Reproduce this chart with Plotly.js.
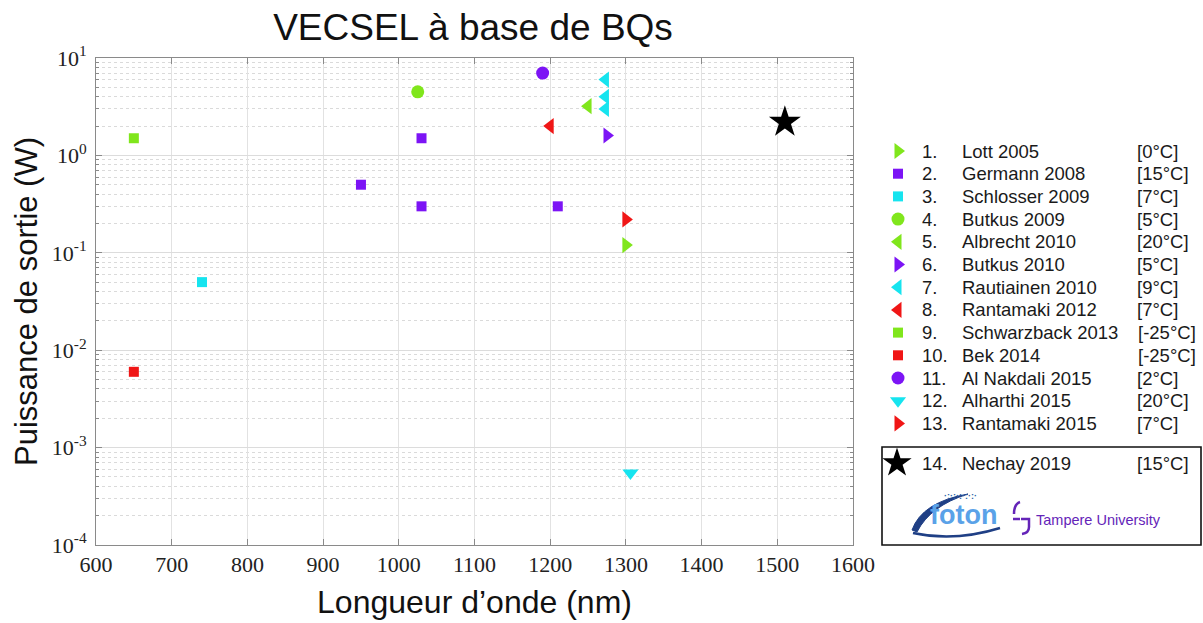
<!DOCTYPE html>
<html>
<head>
<meta charset="utf-8">
<script src="https://cdn.plot.ly/plotly-3.0.1.min.js"></script>
<style>html,body{margin:0;padding:0;background:#fff;}#chart{width:1203px;height:623px;}</style>
</head>
<body>
<div id="chart"></div>
<script>
// ---- data ----
const refNumbers = ['1.', '2.', '3.', '4.', '5.', '6.', '7.', '8.', '9.', '10.', '11.', '12.', '13.', '14.'];
const refNames = ['Lott 2005', 'Germann 2008', 'Schlosser 2009', 'Butkus 2009', 'Albrecht 2010', 'Butkus 2010',
  'Rautiainen 2010', 'Rantamaki 2012', 'Schwarzback 2013', 'Bek 2014', 'Al Nakdali 2015', 'Alharthi 2015',
  'Rantamaki 2015', 'Nechay 2019'];
const refTemps = ['[0°C]', '[15°C]', '[7°C]', '[5°C]', '[20°C]', '[5°C]', '[9°C]', '[7°C]', '[-25°C]', '[-25°C]',
  '[2°C]', '[20°C]', '[7°C]', '[15°C]'];
const wavelength = [
  [1300], [1030, 950, 1030, 1210], [740], [1025], [1250], [1275], [1273, 1273, 1273], [1200], [650], [650],
  [1190], [1306], [1300], [1510]
];
const power = [
  [0.12], [1.5, 0.5, 0.3, 0.3], [0.05], [4.5], [3.2], [1.6], [6.0, 4.0, 3.0], [2.0], [1.5], [0.006],
  [7.0], [0.00055], [0.22], [2.2]
];
const yTickVals = [1e-4, 1e-3, 1e-2, 1e-1, 1, 10];
const yTickText = ['10<sup>-4</sup>', '10<sup>-3</sup>', '10<sup>-2</sup>', '10<sup>-1</sup>', '10<sup>0</sup>', '10<sup>1</sup>'];

// ---- styles ----
const GREEN = '#80e61c', PURPLE = '#7c14f5', CYAN = '#16e4ef', RED = '#f01616', BLACK = '#000000';
const colors = [GREEN, PURPLE, CYAN, GREEN, GREEN, PURPLE, CYAN, RED, GREEN, RED, PURPLE, CYAN, RED, BLACK];
const symbols = ['triangle-right', 'square', 'square', 'circle', 'triangle-left', 'triangle-right', 'triangle-left',
  'triangle-left', 'square', 'square', 'circle', 'triangle-down', 'triangle-right', 'star'];
function mSize(sym) {
  if (sym === 'square') return 10;
  if (sym === 'circle') return 13;
  if (sym === 'star') return 24;
  return 14;
}

const W = 1203, H = 623;
const plotL = 96, plotR = 853, plotT = 58, plotB = 545;
const SANS = 'Liberation Sans';
const SERIF = 'Liberation Serif';

const traces = [];
refNames.forEach((nm, i) => {
  traces.push({
    type: 'scatter', mode: 'markers', name: refNumbers[i] + ' ' + nm,
    x: wavelength[i], y: power[i], xaxis: 'x', yaxis: 'y',
    marker: {symbol: symbols[i], color: colors[i], size: mSize(symbols[i]), opacity: 1, line: {width: 0}},
    showlegend: false, cliponaxis: false
  });
});

// legend markers (pixel-coordinate overlay axes)
const rowY = i => (i < 13 ? 151 + i * 22.7 : 463);
const legX = [], legY = [], legSym = [], legCol = [], legSize = [];
refNames.forEach((nm, i) => {
  legX.push(i === 13 ? 897 : 898);
  legY.push(rowY(i));
  legSym.push(symbols[i]);
  legCol.push(colors[i]);
  legSize.push(symbols[i] === 'star' ? 22 : (symbols[i] === 'square' ? 10 : (symbols[i] === 'circle' ? 13 : 14)));
});
traces.push({
  type: 'scatter', mode: 'markers', x: legX, y: legY, xaxis: 'x2', yaxis: 'y2',
  marker: {symbol: legSym, color: legCol, size: legSize, opacity: 1, line: {width: 0}},
  showlegend: false, hoverinfo: 'skip', cliponaxis: false
});

const annotations = [];
refNames.forEach((nm, i) => {
  const y = rowY(i);
  const f = {family: SANS, size: 18.5, color: '#1a1a1a'};
  annotations.push({xref: 'x2', yref: 'y2', x: 920, y: y, text: refNumbers[i], showarrow: false, xanchor: 'left', yanchor: 'middle', font: f});
  annotations.push({xref: 'x2', yref: 'y2', x: 960, y: y, text: nm, showarrow: false, xanchor: 'left', yanchor: 'middle', font: f});
  annotations.push({xref: 'x2', yref: 'y2', x: (refTemps[i].indexOf('-') >= 0 ? 1136 : 1135), y: y, text: refTemps[i], showarrow: false, xanchor: 'left', yanchor: 'middle', font: f});
});
// logos as text
annotations.push({xref: 'x2', yref: 'y2', x: 963, y: 515, text: '<b>foton</b>', showarrow: false,
  xanchor: 'center', yanchor: 'middle', font: {family: SANS, size: 27, color: '#5aa2e8'}});
annotations.push({xref: 'x2', yref: 'y2', x: 960, y: 496, text: '<b>·:·:·:·:·:·</b>', showarrow: false,
  xanchor: 'center', yanchor: 'middle', font: {family: SANS, size: 9, color: '#2d5fa8'}});
annotations.push({xref: 'x2', yref: 'y2', x: 1034, y: 520, text: 'Tampere University', showarrow: false,
  xanchor: 'left', yanchor: 'middle', font: {family: SANS, size: 14.5, color: '#6424b8'}});

const shapes = [
  {type: 'rect', xref: 'x2', yref: 'y2', x0: 882, x1: 1201, y0: 447, y1: 545, line: {color: '#111', width: 1.6}},
  // foton swoosh
  {type: 'path', xref: 'x2', yref: 'y2', path: 'M 912 530 Q 922 502 968 494 Q 930 506 917 532 Z',
    fillcolor: '#1f3f85', line: {color: '#1f3f85', width: 1}},
  {type: 'path', xref: 'x2', yref: 'y2', path: 'M 913 533 Q 955 542 1000 528',
    line: {color: '#1f3f85', width: 2.5}},
  // Tampere mark
  {type: 'path', xref: 'x2', yref: 'y2', path: 'M 1020 502 Q 1014 504 1014 514', line: {color: '#6424b8', width: 2.5}},
  {type: 'path', xref: 'x2', yref: 'y2', path: 'M 1013 519 L 1020 519', line: {color: '#6424b8', width: 2.5}},
  {type: 'path', xref: 'x2', yref: 'y2', path: 'M 1021 519 L 1029 519 L 1029 527 Q 1029 533 1022 534', line: {color: '#6424b8', width: 2.5}}
];

const layout = {
  width: W, height: H,
  margin: {l: 0, r: 0, t: 0, b: 0, pad: 0},
  paper_bgcolor: '#ffffff', plot_bgcolor: 'rgba(0,0,0,0)',
  showlegend: false,
  font: {family: SANS},
  title: {text: 'VECSEL à base de BQs', x: 473 / W, xref: 'paper', xanchor: 'center', y: 1 - 27 / H, yref: 'paper', yanchor: 'middle',
    font: {family: SANS, size: 37, color: '#111'}},
  xaxis: {
    domain: [plotL / W, plotR / W], anchor: 'y', range: [600, 1600], dtick: 100, tick0: 600,
    showline: true, linecolor: '#8a8a8a', linewidth: 1, mirror: 'ticks',
    ticks: 'inside', ticklen: 6, tickcolor: '#8a8a8a',
    showgrid: true, gridcolor: '#e2e2e2', gridwidth: 1, zeroline: false,
    tickfont: {family: SERIF, size: 22, color: '#222'}, ticklabelstandoff: 0,
    title: {text: 'Longueur d’onde (nm)', font: {family: SANS, size: 32, color: '#111'}, standoff: 14},
    automargin: false
  },
  yaxis: {
    domain: [1 - plotB / H, 1 - plotT / H], anchor: 'x', type: 'log', range: [-4, 1],
    tickmode: 'array', tickvals: yTickVals, ticktext: yTickText,
    showline: true, linecolor: '#8a8a8a', linewidth: 1, mirror: 'ticks',
    ticks: 'inside', ticklen: 6, tickcolor: '#8a8a8a',
    showgrid: true, gridcolor: '#dcdcdc', gridwidth: 1, zeroline: false,
    minor: {tickmode: 'array', tickvals: (function () {
      const v = []; for (let e = -4; e < 1; e++) for (let k = 2; k <= 9; k++) v.push(k * Math.pow(10, e)); return v; })(),
      ticks: 'inside', ticklen: 3, tickcolor: '#8a8a8a', showgrid: true, gridcolor: '#dadada', griddash: 'dot', gridwidth: 1},
    tickfont: {family: SERIF, size: 22, color: '#222'}, ticklabelstandoff: 4,
    title: {text: 'Puissance de sortie (W)', font: {family: SANS, size: 31, color: '#111'}, standoff: 4},
    automargin: false
  },
  xaxis2: {domain: [0, 1], anchor: 'y2', range: [0, W], visible: false, fixedrange: true},
  yaxis2: {domain: [0, 1], anchor: 'x2', range: [H, 0], visible: false, fixedrange: true},
  annotations: annotations,
  shapes: shapes
};

Plotly.newPlot('chart', traces, layout, {displayModeBar: false, staticPlot: true});
</script>
</body>
</html>
